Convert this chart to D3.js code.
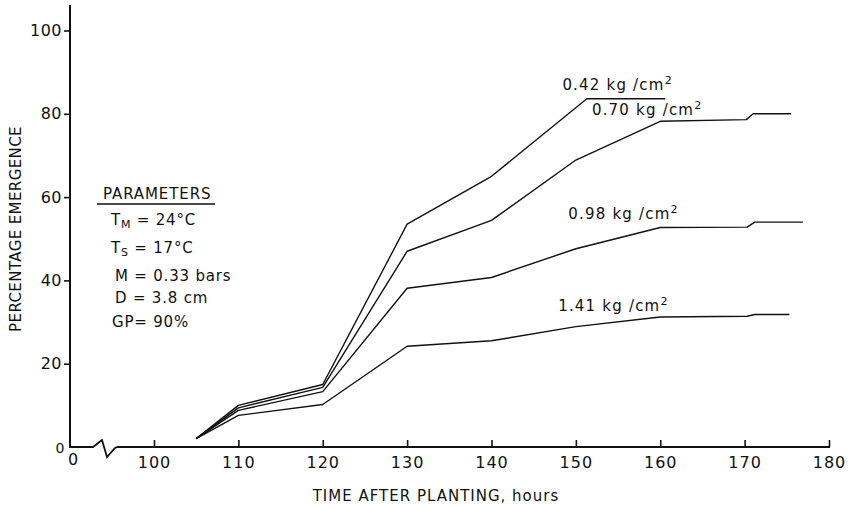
<!DOCTYPE html>
<html>
<head>
<meta charset="utf-8">
<script src="https://cdn.jsdelivr.net/npm/d3@7"></script>
<style>
  html, body { margin: 0; padding: 0; background: #fff; }
  svg { display: block; }
  text { font-family: "DejaVu Sans", sans-serif; fill: #111; }
</style>
</head>
<body>
<svg id="chart" width="850" height="509"></svg>
<script>
// Emergence curves, one per soil crust strength (hours after planting, % emerged)
const hours042 = [105, 110, 120, 130, 140, 151.3, 160.6];
const pct042   = [2, 10, 15, 53.5, 65, 83.6, 83.6];

const hours070 = [105, 110, 120, 130, 140, 150, 160, 170.2, 171, 175.5];
const pct070   = [2, 9.4, 14.3, 47, 54.4, 68.9, 78.2, 78.6, 80, 80];

const hours098 = [105, 110, 120, 130, 140, 150, 160, 170.3, 171.2, 176.9];
const pct098   = [2, 8.8, 13.3, 38.1, 40.7, 47.6, 52.7, 52.8, 54, 54];

const hours141 = [105, 110, 120, 130, 140, 150, 160, 170.3, 171.2, 175.3];
const pct141   = [2, 7.6, 10.2, 24.2, 25.5, 28.9, 31.2, 31.4, 31.8, 31.8];

const seriesNames = ["0.42", "0.70", "0.98", "1.41"];
const xTicks = [100, 110, 120, 130, 140, 150, 160, 170, 180];
const yTicks = [20, 40, 60, 80, 100];

// label start points (hours, %) for each curve
const labelHours = [148.4, 151.9, 149.1, 147.9];
const labelPct   = [85.7, 79.7, 54.7, 32.6];

const params = [
  { main: "T", sub: "M", rest: " = 24°C" },
  { main: "T", sub: "S", rest: " = 17°C" },
  { main: "M", sub: "", rest: " = 0.33 bars" },
  { main: "D", sub: "", rest: " = 3.8 cm" },
  { main: "GP", sub: "", rest: "= 90%" }
];

const svg = d3.select("#chart");

// the plotted hours start at 100; the origin (0 h) sits at the axis corner, with a break between
const x = d3.scaleLinear().domain([100, 180]).range([154, 829]);
const y = d3.scaleLinear().domain([0, 100]).range([447, 30.5]);
const originX = 70;

const series = [
  { name: seriesNames[0], h: hours042, p: pct042 },
  { name: seriesNames[1], h: hours070, p: pct070 },
  { name: seriesNames[2], h: hours098, p: pct098 },
  { name: seriesNames[3], h: hours141, p: pct141 }
];

// ---- axes ----
const axisG = svg.append("g").attr("stroke", "#111").attr("fill", "none");

// y axis line
axisG.append("line")
  .attr("x1", originX).attr("x2", originX)
  .attr("y1", 5).attr("y2", y(0) + 1)
  .attr("stroke-width", 2);

// x axis: origin stub, break zigzag, then the main run
const y0 = y(0);
axisG.append("path")
  .attr("d", `M${originX},${y0} L${originX + 23},${y0} L${originX + 32},${y0 - 7} L${originX + 37},${y0 + 10} L${originX + 45},${y0 + 1} L${originX + 47},${y0}`)
  .attr("stroke-width", 1.8)
  .attr("stroke-linejoin", "miter");
axisG.append("line")
  .attr("x1", originX + 47).attr("x2", x(180) + 1)
  .attr("y1", y0).attr("y2", y0)
  .attr("stroke-width", 2);

// x ticks (pointing up into the plot)
const xAxis = d3.axisBottom(x).tickValues(xTicks).tickSizeInner(-7).tickSizeOuter(0).tickPadding(10);
const gx = svg.append("g").attr("transform", `translate(0,${y0})`).call(xAxis);
gx.select(".domain").remove();
gx.selectAll(".tick line").attr("stroke", "#111").attr("stroke-width", 1.6);
gx.selectAll(".tick text")
  .attr("fill", "#111")
  .style("font-size", "16px")
  .style("letter-spacing", "1px")
  .style("font-family", "DejaVu Sans");

// y ticks (pointing out to the left)
const yAxis = d3.axisLeft(y).tickValues(yTicks).tickSizeInner(6).tickSizeOuter(0).tickPadding(2);
const gy = svg.append("g").attr("transform", `translate(${originX},0)`).call(yAxis);
gy.select(".domain").remove();
gy.selectAll(".tick line").attr("stroke", "#111").attr("stroke-width", 1.6);
gy.selectAll(".tick text")
  .attr("fill", "#111")
  .style("font-size", "16px")
  .style("letter-spacing", "0.5px")
  .style("font-family", "DejaVu Sans");

// the two zeros at the corner
svg.append("text").attr("x", 60).attr("y", y0 + 6).attr("text-anchor", "middle")
  .style("font-size", "14px").text("0");
svg.append("text").attr("x", 73).attr("y", y0 + 18).attr("text-anchor", "middle")
  .style("font-size", "16px").text("0");

// axis titles
svg.append("text")
  .attr("x", 436).attr("y", 501)
  .attr("text-anchor", "middle")
  .style("font-size", "15px")
  .style("letter-spacing", "1px")
  .text("TIME AFTER PLANTING, hours");

svg.append("text")
  .attr("transform", "translate(21,229) rotate(-90)")
  .attr("text-anchor", "middle")
  .style("font-size", "15px")
  .style("letter-spacing", "0.4px")
  .text("PERCENTAGE  EMERGENCE");

// ---- curves ----
const line = d3.line().x(d => x(d[0])).y(d => y(d[1]));
svg.append("g").selectAll("path")
  .data(series)
  .join("path")
  .attr("d", s => line(s.h.map((h, i) => [h, s.p[i]])))
  .attr("fill", "none")
  .attr("stroke", "#111")
  .attr("stroke-width", 1.4)
  .attr("stroke-linejoin", "round");

// curve labels with superscript units
series.forEach((s, i) => {
  const t = svg.append("text")
    .attr("x", x(labelHours[i])).attr("y", y(labelPct[i]))
    .attr("text-anchor", "start")
    .style("font-size", "15px")
    .style("letter-spacing", "1.2px");
  t.append("tspan").text(`${s.name} kg /cm`);
  t.append("tspan").attr("dy", -6).style("font-size", "11px").text("2");
});

// ---- parameters block ----
const pg = svg.append("g");
pg.append("text").attr("x", 103).attr("y", 199)
  .style("font-size", "15px").style("letter-spacing", "0.9px")
  .text("PARAMETERS");
pg.append("line").attr("x1", 97).attr("x2", 215).attr("y1", 204).attr("y2", 204)
  .attr("stroke", "#111").attr("stroke-width", 1.6);

const paramY = [225, 253, 281, 303, 327];
const paramX = [111, 111, 115, 115, 112];
params.forEach((p, i) => {
  const t = pg.append("text").attr("x", paramX[i]).attr("y", paramY[i])
    .style("font-size", "15px").style("letter-spacing", "0.8px");
  t.append("tspan").text(p.main);
  if (p.sub) {
    t.append("tspan").attr("dy", 3).style("font-size", "11px").text(p.sub);
    t.append("tspan").attr("dy", -3).text(p.rest);
  } else {
    t.append("tspan").text(p.rest);
  }
});
</script>
</body>
</html>
